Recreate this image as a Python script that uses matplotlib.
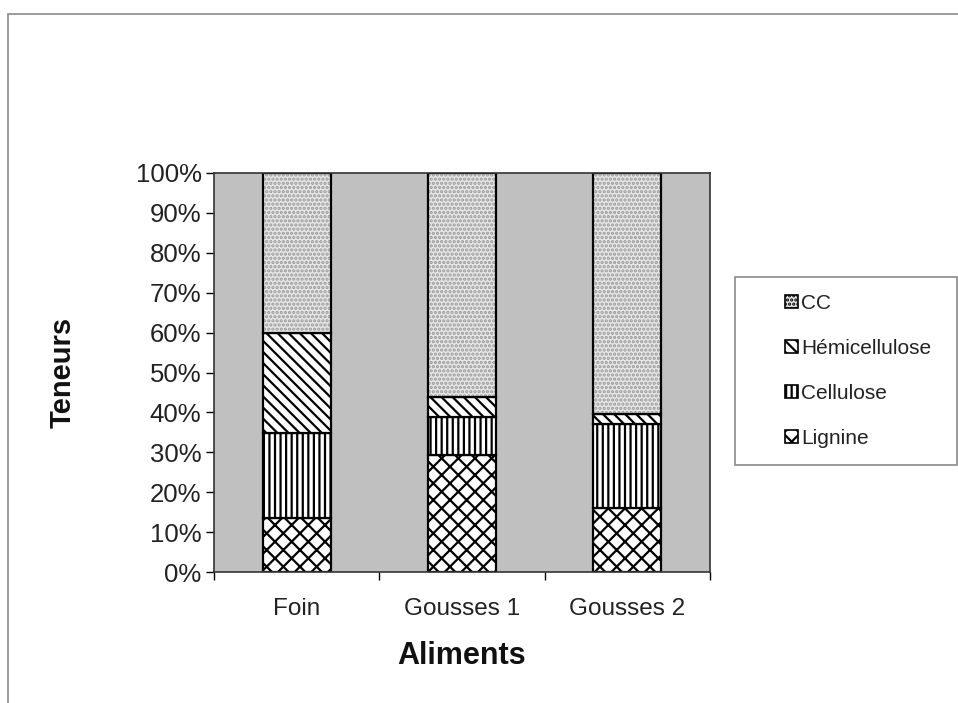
import matplotlib
matplotlib.use("Agg")
import matplotlib.pyplot as plt
import numpy as np
from matplotlib.patches import Rectangle, Patch

plt.rcParams['font.family'] = ['Liberation Sans', 'DejaVu Sans']
plt.rcParams['hatch.linewidth'] = 1.6

# Données (en %)
aliments = ["Foin", "Gousses 1", "Gousses 2"]
lignine = [13.5, 29.3, 16.0]
cellulose = [21.3, 9.5, 21.0]
hemicellulose = [25.0, 5.0, 2.6]
cc = [40.2, 56.2, 60.4]

# nom, valeurs, fond, motif, couleur du motif
series = [
    ("Lignine", lignine, "white", "xx", "black"),
    ("Cellulose", cellulose, "white", "|||", "black"),
    ("Hémicellulose", hemicellulose, "white", "\\\\\\", "black"),
    ("CC", cc, "#e6e6e6", "....", "#9a9a9a"),
]

fig = plt.figure(figsize=(9.58, 7.03), dpi=100)
fig.patch.set_facecolor("white")

# cadre extérieur
fig.patches.append(Rectangle((8 / 958, -0.02), 1.02, 1 - 14 / 703 + 0.02,
                             transform=fig.transFigure, fill=False,
                             edgecolor="#8a8a8a", lw=1.2))

ax = fig.add_axes([214 / 958, 1 - 572 / 703, 496 / 958, 399 / 703])
ax.set_facecolor("#c0c0c0")

x = np.arange(len(aliments))
bottom = np.zeros(len(aliments))
handles = []
for nom, vals, fc, hatch, hc in series:
    # motif d'abord, puis contour noir
    ax.bar(x, vals, width=0.41, bottom=bottom, color=fc, hatch=hatch,
           edgecolor=hc, linewidth=0)
    ax.bar(x, vals, width=0.41, bottom=bottom, fill=False,
           edgecolor="black", linewidth=1.6)
    bottom += np.array(vals)
    handles.append(Patch(facecolor=fc, hatch=hatch, edgecolor="black",
                         linewidth=1.2, label=nom))

ax.set_xlim(-0.5, 2.5)
ax.set_ylim(0, 100)
ax.set_yticks(np.arange(0, 101, 10))
ax.set_yticklabels([f"{v}%" for v in range(0, 101, 10)], fontsize=18.5, color="#222222")
ax.set_xticks(x)
ax.set_xticklabels(aliments, fontsize=17.5, color="#222222")
ax.set_xticks([-0.5, 0.5, 1.5, 2.5], minor=True)
ax.tick_params(axis="x", which="major", length=0, pad=19)
ax.tick_params(axis="x", which="minor", length=6, width=1, direction="out")
ax.tick_params(axis="y", length=6, width=1, direction="out", pad=3)
for s in ax.spines.values():
    s.set_color("#333333")
    s.set_linewidth(1.2)

ax.set_ylabel("Teneurs", fontsize=21, fontweight="bold", color="#111111")
ax.yaxis.set_label_coords(-0.276, 0.5)
ax.set_xlabel("Aliments", fontsize=22, fontweight="bold", color="#111111", labelpad=15)

# légende
fig.patches.append(Rectangle((735 / 958, 1 - 465 / 703), 222 / 958, 188 / 703,
                             transform=fig.transFigure, facecolor="white",
                             edgecolor="#8a8a8a", lw=1.2))
leg = fig.legend(handles=handles[::-1], loc="center left",
                 bbox_to_anchor=(775 / 958, 1 - 371 / 703), frameon=False,
                 fontsize=15, handlelength=0.6, handleheight=0.6,
                 handletextpad=0.15, labelspacing=1.25, borderpad=0)
for t in leg.get_texts():
    t.set_color("#222222")

fig.savefig("out.png", dpi=100)
